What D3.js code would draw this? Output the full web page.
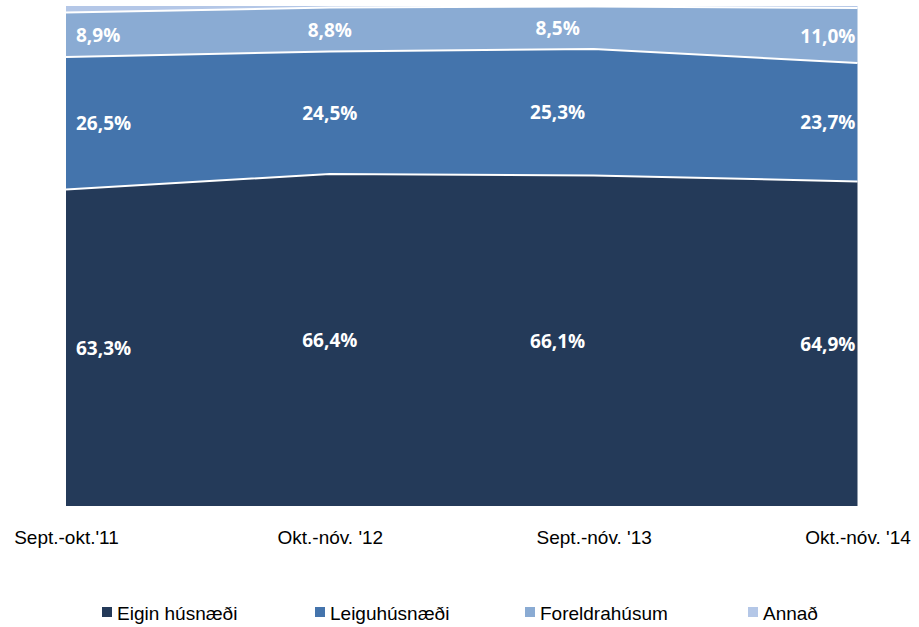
<!DOCTYPE html>
<html><head><meta charset="utf-8">
<script src="https://cdn.jsdelivr.net/npm/d3@7"></script>
<style>body{margin:0;background:#fff}svg{display:block}</style>
</head><body>
<svg id="c" width="919" height="627"></svg>
<script>
const categories = ["Sept.-okt.'11", "Okt.-nóv. '12", "Sept.-nóv. '13", "Okt.-nóv. '14"];
const seriesNames = ["Eigin húsnæði", "Leiguhúsnæði", "Foreldrahúsum", "Annað"];
const eigin = [63.3, 66.4, 66.1, 64.9];
const leigu = [26.5, 24.5, 25.3, 23.7];
const foreldra = [8.9, 8.8, 8.5, 11.0];
const annad = [1.3, 0.3, 0.1, 0.4];
const colors = ["#243a59", "#4474ac", "#8aabd3", "#b4c7e7"];

(function () {
const svg = d3.select("#c");
const mLeft = 66, mRight = 857.5, mTop = 6, mBottom = 506;
const x = d3.scalePoint().domain(categories).range([mLeft, mRight]);
const y = d3.scaleLinear().domain([0, 100]).range([mBottom, mTop]);

const rows = categories.map((c, i) => ({cat: c, [seriesNames[0]]: eigin[i], [seriesNames[1]]: leigu[i], [seriesNames[2]]: foreldra[i], [seriesNames[3]]: annad[i]}));
const stack = d3.stack().keys(seriesNames)(rows);

const area = d3.area().x(d => x(d.data.cat)).y0(d => y(d[0])).y1(d => y(d[1]));
svg.append("g").selectAll("path").data(stack).join("path")
  .attr("d", area).attr("fill", (d, i) => colors[i]);

// white separator lines between stacked areas
const line = d3.line().x(d => x(d.data.cat)).y(d => y(d[1]));
svg.append("g").selectAll("path").data(stack.slice(0, 3)).join("path")
  .attr("d", line).attr("fill", "none").attr("stroke", "#fff").attr("stroke-width", 2);

// data labels (first three series)
const anchors = ["start", "middle", "middle", "end"];
const dxs = [10, 0, -36, -2];
const fmt = v => v.toFixed(1).replace(".", ",") + "%";
stack.slice(0, 3).forEach((s) => {
  svg.append("g").selectAll("text").data(s).join("text")
    .attr("x", (d, i) => x(d.data.cat) + dxs[i])
    .attr("y", d => Math.max((y(d[0]) + y(d[1])) / 2, mTop + 22))
    .attr("text-anchor", (d, i) => anchors[i])
    .attr("dominant-baseline", "central")
    .attr("fill", "#fff").attr("font-weight", "bold")
    .attr("font-family", "'Open Sans', sans-serif").attr("font-size", 19)
    .text(d => fmt(d[1] - d[0]));
});

// x axis labels
const xAxis = d3.axisBottom(x).tickSize(0).tickPadding(0);
const gx = svg.append("g").attr("transform", `translate(0,${mBottom + 24})`).call(xAxis);
gx.select(".domain").remove();
gx.selectAll("text").attr("font-family", "'Liberation Sans', sans-serif").attr("font-size", 19).attr("fill", "#000");

// legend
const legX = [102, 315, 525, 748];
const lg = svg.append("g").selectAll("g").data(seriesNames).join("g")
  .attr("transform", (d, i) => `translate(${legX[i]},612)`);
lg.append("rect").attr("x", 0).attr("y", -5).attr("width", 10).attr("height", 10).attr("fill", (d, i) => colors[i]);
lg.append("text").attr("x", 15).attr("y", 1).attr("dominant-baseline", "central")
  .attr("font-family", "'Liberation Sans', sans-serif").attr("font-size", 19).attr("fill", "#000").text(d => d);
})();
</script>
</body></html>
